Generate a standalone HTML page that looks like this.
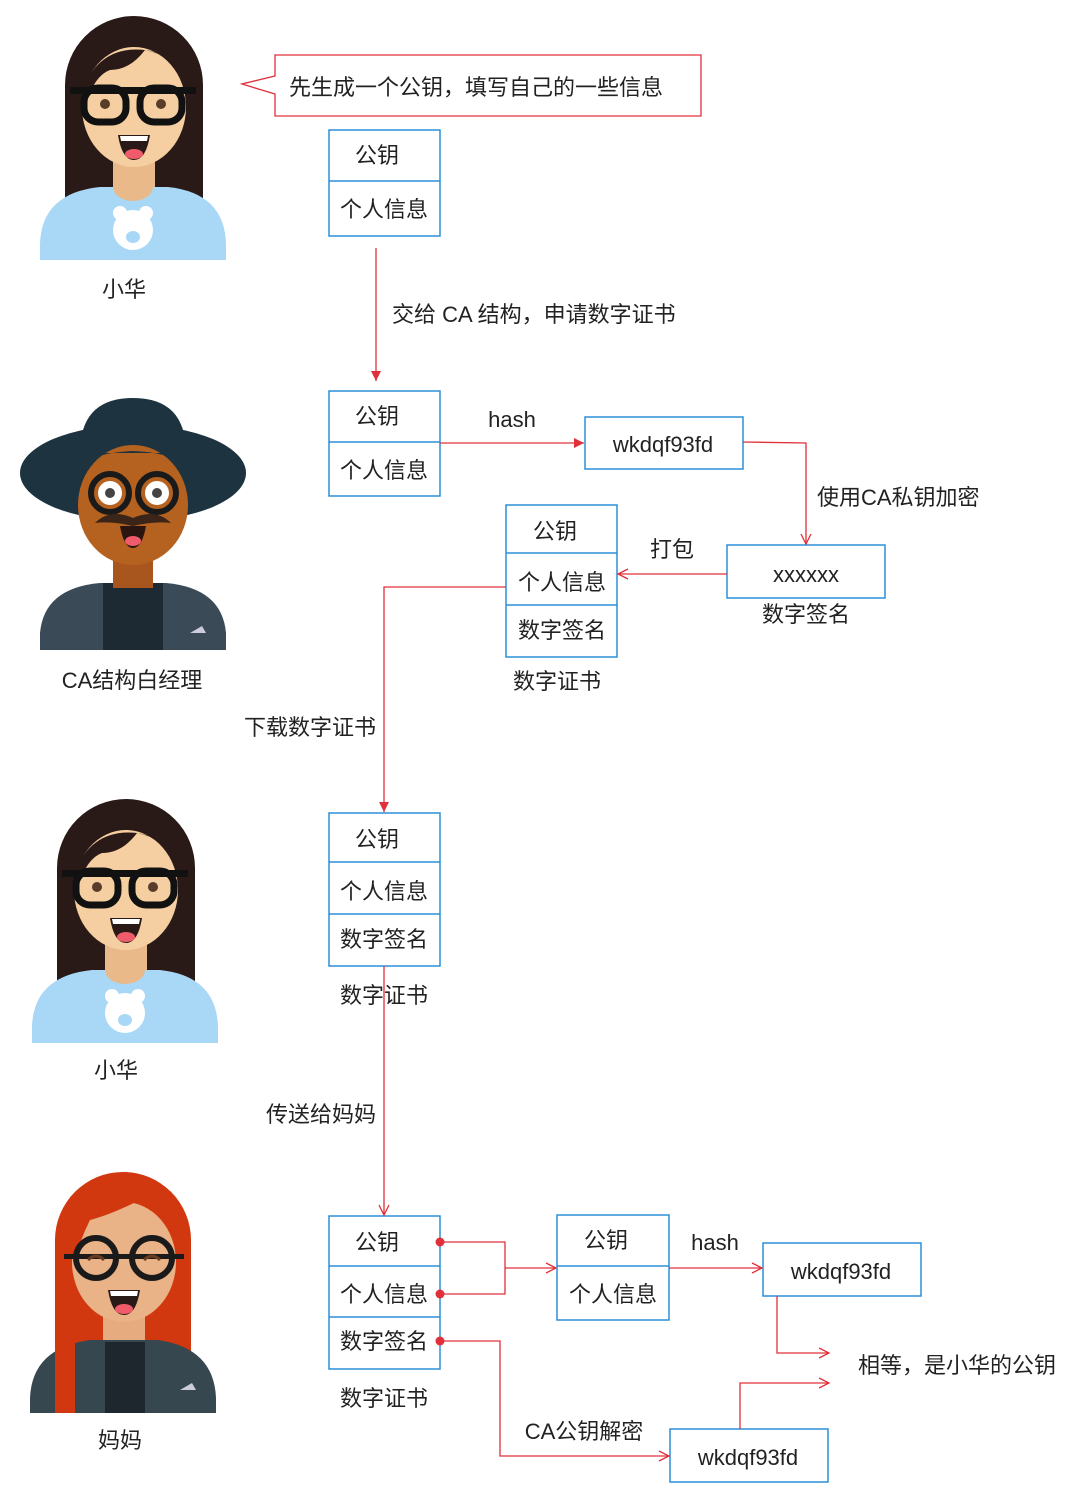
<!DOCTYPE html>
<html><head><meta charset="utf-8"><style>
html,body{margin:0;padding:0;background:#fff;}
svg text{font-family:"Liberation Sans","Noto Sans CJK SC",sans-serif;fill:#222;}
</style></head><body>
<svg width="1080" height="1506" viewBox="0 0 1080 1506" xmlns="http://www.w3.org/2000/svg">
<defs>
<marker id="fa" markerWidth="12" markerHeight="12" refX="10" refY="5" orient="auto" markerUnits="userSpaceOnUse"><path d="M0,0 L10,5 L0,10 Z" fill="#e0303a"/></marker>
<marker id="oa" markerWidth="14" markerHeight="14" refX="11" refY="6" orient="auto" markerUnits="userSpaceOnUse"><path d="M1,1 L11,6 L1,11" fill="none" stroke="#e0303a" stroke-width="1.3"/></marker>
<g id="girl">
<path d="M25,195 L25,70 A69,69 0 0 1 163,70 L163,195 Z" fill="#2a1a17"/>
<rect x="73" y="135" width="42" height="45" fill="#e9b98a"/>
<path d="M0,245 L0,228 Q2,178 60,172 L128,172 Q184,178 186,228 L186,245 Z" fill="#a9d8f7"/>
<path d="M93,172 m-20,0 a20,14 0 0 0 40,0 z" fill="#e9b98a"/>
<ellipse cx="94" cy="92" rx="52" ry="60" fill="#f5cfa1"/>
<path d="M42,75 Q60,30 105,35 Q90,55 70,55 Q55,60 45,90 Z" fill="#2a1a17"/>
<path d="M105,35 Q140,40 146,80 L146,60 Q130,40 105,35 Z" fill="#2a1a17"/>
<rect x="44" y="73" width="42" height="34" rx="14" fill="none" stroke="#111" stroke-width="7"/>
<rect x="100" y="73" width="42" height="34" rx="14" fill="none" stroke="#111" stroke-width="7"/>
<rect x="30" y="72" width="126" height="7" fill="#111"/>
<circle cx="65" cy="89" r="5" fill="#5a3c2a"/><circle cx="121" cy="89" r="5" fill="#5a3c2a"/>
<path d="M78,120 L110,120 Q106,145 94,145 Q82,145 78,120 Z" fill="#2a1a17"/>
<path d="M80,121 L108,121 L107,126 L81,126 Z" fill="#fff"/>
<ellipse cx="94" cy="139" rx="9" ry="5" fill="#ef5b6b"/>
<circle cx="93" cy="215" r="20" fill="#fff"/><circle cx="80" cy="198" r="7" fill="#fff"/><circle cx="106" cy="198" r="7" fill="#fff"/>
<ellipse cx="93" cy="222" rx="7" ry="6" fill="#a9d8f7"/>
</g>
</defs>

<use href="#girl" x="40" y="15"/>
<use href="#girl" x="32" y="798"/>

<g transform="translate(20,393)">
<path d="M20,257 L20,240 Q24,195 80,190 L146,190 Q202,195 206,240 L206,257 Z" fill="#3a4a57"/>
<rect x="83" y="190" width="60" height="67" fill="#1e2a33"/>
<rect x="93" y="150" width="40" height="45" fill="#a8551e"/>
<ellipse cx="113" cy="80" rx="113" ry="48" fill="#1d3440"/>
<path d="M60,60 Q60,5 113,5 Q166,5 166,60 Z" fill="#1d3440"/>
<ellipse cx="113" cy="112" rx="55" ry="60" fill="#b5611f"/>
<path d="M58,85 Q60,60 113,58 Q166,60 168,85 L168,60 L58,60 Z" fill="#1d3440"/>
<circle cx="90" cy="100" r="19" fill="none" stroke="#1a1a1a" stroke-width="6"/>
<circle cx="137" cy="100" r="19" fill="none" stroke="#1a1a1a" stroke-width="6"/>
<circle cx="90" cy="100" r="12" fill="#fff"/><circle cx="137" cy="100" r="12" fill="#fff"/>
<circle cx="90" cy="100" r="5" fill="#444"/><circle cx="137" cy="100" r="5" fill="#444"/>
<path d="M75,130 Q90,115 113,125 Q136,115 151,130 Q135,128 113,133 Q91,128 75,130 Z" fill="#3a2518"/>
<path d="M100,133 L126,133 Q122,155 113,155 Q104,155 100,133 Z" fill="#2a1510"/>
<ellipse cx="113" cy="148" rx="8" ry="5" fill="#ef5b6b"/>
<path d="M170,240 L182,233 L186,240 Z" fill="#ccd"/>
</g>

<g transform="translate(30,1170)">
<path d="M25,210 L25,70 A68,68 0 0 1 161,70 L161,200 Z" fill="#d2380f"/>
<rect x="73" y="135" width="42" height="45" fill="#e6ab7e"/>
<path d="M0,243 L0,228 Q2,178 60,170 L128,170 Q184,178 186,228 L186,243 Z" fill="#37474f"/>
<rect x="75" y="172" width="40" height="71" fill="#1e272e"/>
<path d="M25,243 L25,160 L45,160 L45,243 Z" fill="#d2380f"/>
<ellipse cx="94" cy="92" rx="52" ry="60" fill="#eab287"/>
<path d="M40,80 Q50,20 110,30 Q80,45 60,50 Q50,70 45,90 Z" fill="#d2380f"/>
<circle cx="66" cy="88" r="20" fill="none" stroke="#1a1a1a" stroke-width="6"/>
<circle cx="122" cy="88" r="20" fill="none" stroke="#1a1a1a" stroke-width="6"/>
<rect x="34" y="84" width="120" height="5" fill="#1a1a1a"/>
<path d="M58,90 Q66,82 74,90" fill="none" stroke="#6b3b20" stroke-width="3"/>
<path d="M114,90 Q122,82 130,90" fill="none" stroke="#6b3b20" stroke-width="3"/>
<path d="M78,120 L110,120 Q106,145 94,145 Q82,145 78,120 Z" fill="#2a1a17"/>
<path d="M80,121 L108,121 L107,126 L81,126 Z" fill="#fff"/>
<ellipse cx="94" cy="139" rx="9" ry="5" fill="#ef5b6b"/>
<path d="M150,220 L162,213 L166,220 Z" fill="#ccd"/>
</g>

<g font-size="22" text-anchor="middle">
<text x="124" y="297">小华</text>
<text x="132" y="688">CA结构白经理</text>
<text x="116" y="1078">小华</text>
<text x="120" y="1448">妈妈</text>
</g>

<path d="M275,55 L701,55 L701,116 L275,116 L275,94 L242,84 L275,76 Z" fill="#fff" stroke="#e0303a" stroke-width="1.3"/>
<text x="289" y="95" font-size="22">先生成一个公钥，填写自己的一些信息</text>

<g fill="#fff" stroke="#2b8fd8" stroke-width="1.5">
<rect x="329" y="130" width="111" height="106"/><line x1="329" y1="181" x2="440" y2="181"/>
<rect x="329" y="391" width="111" height="105"/><line x1="329" y1="442" x2="440" y2="442"/>
<rect x="585" y="417" width="158" height="52"/>
<rect x="727" y="545" width="158" height="53"/>
<rect x="506" y="505" width="111" height="152"/><line x1="506" y1="553" x2="617" y2="553"/><line x1="506" y1="605" x2="617" y2="605"/>
<rect x="329" y="813" width="111" height="153"/><line x1="329" y1="862" x2="440" y2="862"/><line x1="329" y1="914" x2="440" y2="914"/>
<rect x="329" y="1216" width="111" height="153"/><line x1="329" y1="1266" x2="440" y2="1266"/><line x1="329" y1="1317" x2="440" y2="1317"/>
<rect x="557" y="1215" width="112" height="105"/><line x1="557" y1="1266" x2="669" y2="1266"/>
<rect x="763" y="1243" width="158" height="53"/>
<rect x="670" y="1429" width="158" height="53"/>
</g>

<g font-size="22" text-anchor="middle">
<text x="377" y="163">公钥</text><text x="384" y="217">个人信息</text>
<text x="377" y="424">公钥</text><text x="384" y="478">个人信息</text>
<text x="663" y="452">wkdqf93fd</text>
<text x="806" y="582">xxxxxx</text>
<text x="806" y="622">数字签名</text>
<text x="555" y="539">公钥</text><text x="562" y="590">个人信息</text><text x="562" y="638">数字签名</text>
<text x="557" y="689">数字证书</text>
<text x="377" y="847">公钥</text><text x="384" y="899">个人信息</text><text x="384" y="947">数字签名</text>
<text x="384" y="1003">数字证书</text>
<text x="377" y="1250">公钥</text><text x="384" y="1302">个人信息</text><text x="384" y="1349">数字签名</text>
<text x="384" y="1406">数字证书</text>
<text x="606" y="1248">公钥</text><text x="613" y="1302">个人信息</text>
<text x="841" y="1279">wkdqf93fd</text>
<text x="748" y="1465">wkdqf93fd</text>
<text x="512" y="427">hash</text>
<text x="672" y="557">打包</text>
<text x="715" y="1250">hash</text>
<text x="584" y="1439">CA公钥解密</text>
</g>
<g font-size="22">
<text x="392" y="322">交给 CA 结构，申请数字证书</text>
<text x="817" y="505">使用CA私钥加密</text>
<text x="376" y="735" text-anchor="end">下载数字证书</text>
<text x="376" y="1122" text-anchor="end">传送给妈妈</text>
<text x="858" y="1373">相等，是小华的公钥</text>
</g>

<g fill="none" stroke="#e0303a" stroke-width="1.3">
<line x1="376" y1="248" x2="376" y2="381" marker-end="url(#fa)"/>
<line x1="440" y1="443" x2="584" y2="443" marker-end="url(#fa)"/>
<polyline points="743,442 806,443 806,544" marker-end="url(#oa)"/>
<line x1="727" y1="574" x2="618" y2="574" marker-end="url(#oa)"/>
<polyline points="506,587 384,587 384,812" marker-end="url(#fa)"/>
<line x1="384" y1="966" x2="384" y2="1215" marker-end="url(#oa)"/>
<polyline points="440,1242 505,1242 505,1294 440,1294"/>
<line x1="505" y1="1268" x2="556" y2="1268" marker-end="url(#oa)"/>
<line x1="669" y1="1268" x2="762" y2="1268" marker-end="url(#oa)"/>
<polyline points="777,1296 777,1353 829,1353" marker-end="url(#oa)"/>
<polyline points="440,1341 500,1341 500,1456 669,1456" marker-end="url(#oa)"/>
<polyline points="740,1429 740,1383 829,1383" marker-end="url(#oa)"/>
</g>
<g fill="#e0303a">
<circle cx="440" cy="1242" r="4.5"/><circle cx="440" cy="1294" r="4.5"/><circle cx="440" cy="1341" r="4.5"/>
</g>
</svg>
</body></html>
